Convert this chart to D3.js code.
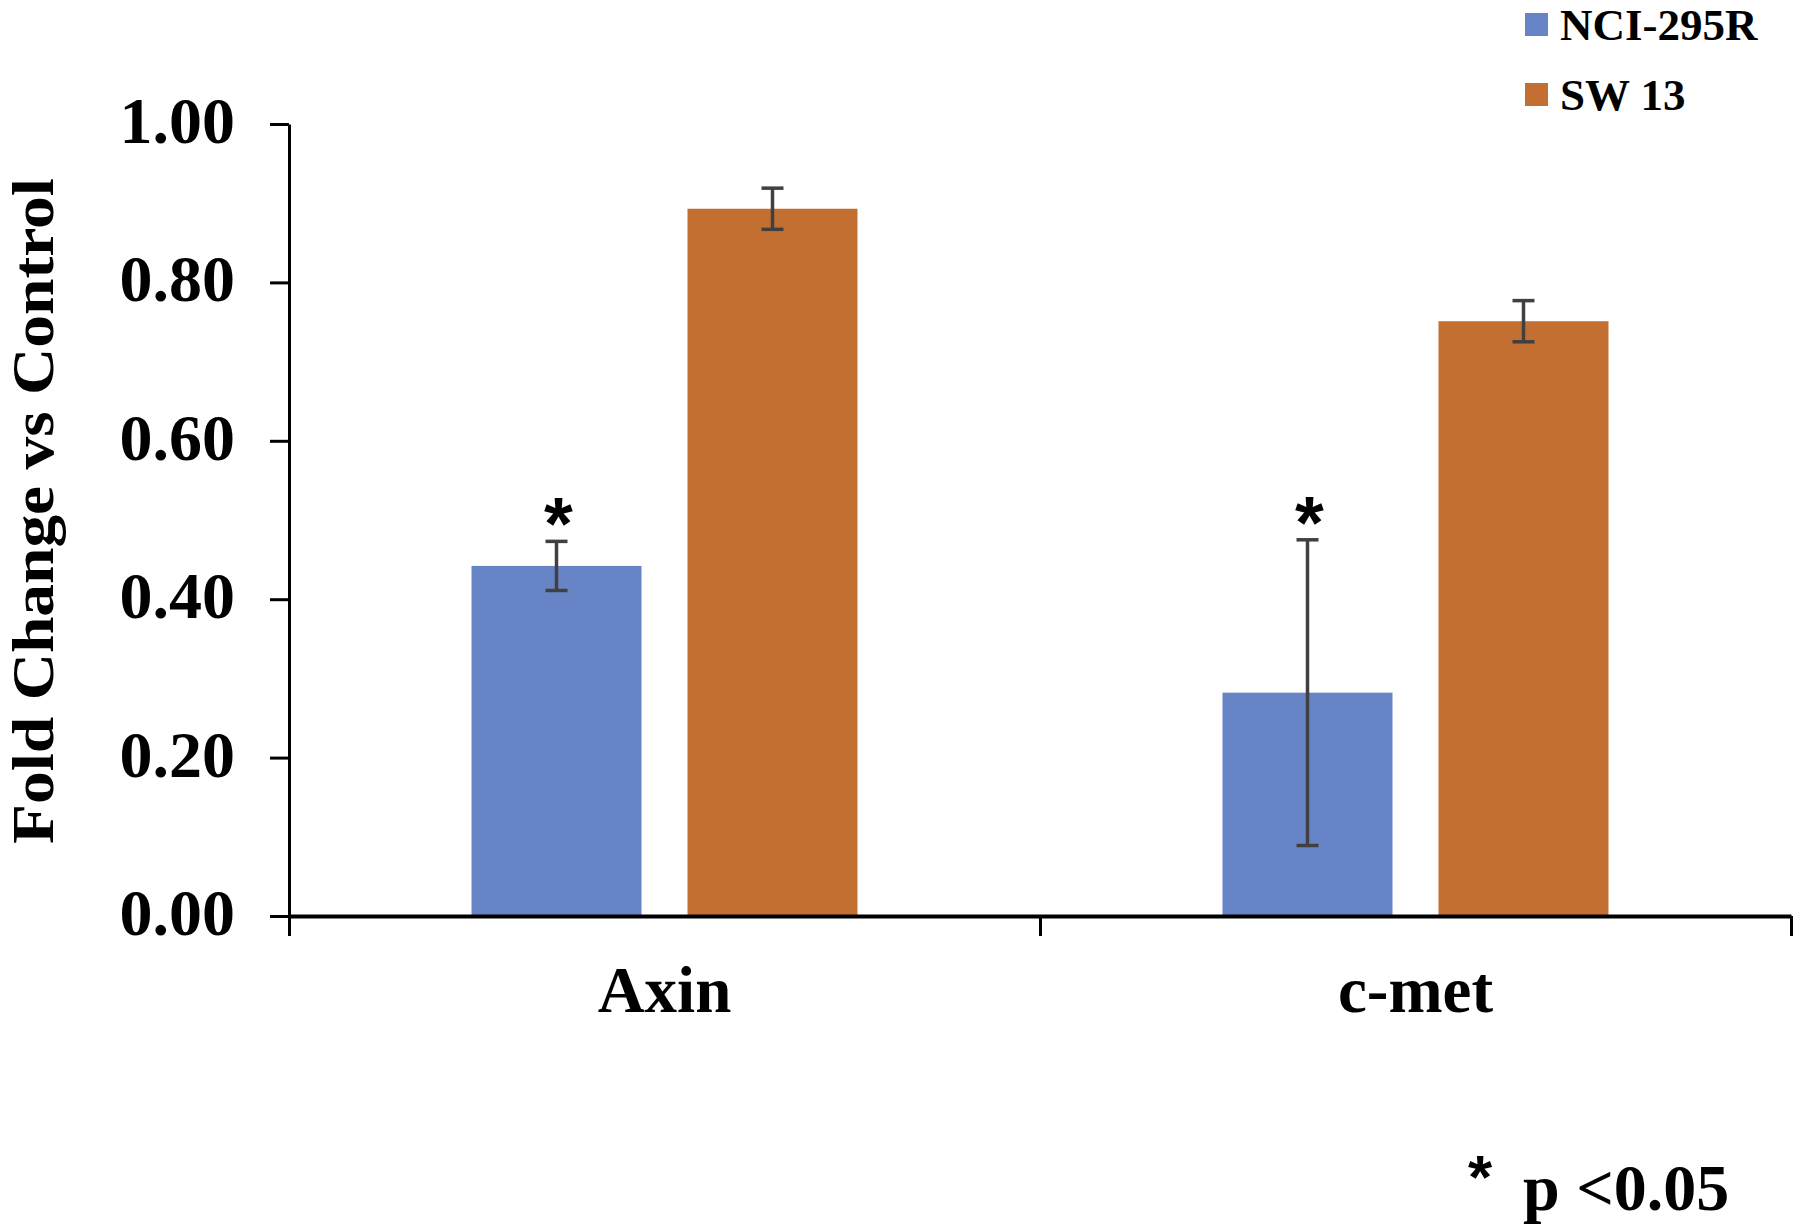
<!DOCTYPE html>
<html>
<head>
<meta charset="utf-8">
<script src="https://cdn.jsdelivr.net/npm/d3@7"></script>
<style>
  body { margin: 0; background: #fff; }
  text { font-family: "Liberation Serif", "Times New Roman", serif; font-weight: bold; fill: #000; }
</style>
</head>
<body>
<div id="chart"></div>
<script>
var categories = ["Axin", "c-met"];
var seriesNames = ["NCI-295R", "SW 13"];
var nciValues = [0.442, 0.282];
var nciErrors = [0.031, 0.193];
var swValues = [0.893, 0.751];
var swErrors = [0.026, 0.026];
var significant = [true, false]; // per series: NCI-295R marked
var yTicks = [0, 0.2, 0.4, 0.6, 0.8, 1.0];
var colors = ["#6785c6", "#c46f32"];

var W = 1800, H = 1229;
var plotLeft = 289, plotRight = 1791, plotTop = 124, plotBottom = 916;

var svg = d3.select("#chart").append("svg")
  .attr("width", W)
  .attr("height", H);

var rows = categories.map(function(c, i) {
  return {cat: c, vals: [
    {key: seriesNames[0], v: nciValues[i], e: nciErrors[i], star: significant[0]},
    {key: seriesNames[1], v: swValues[i], e: swErrors[i], star: significant[1]}
  ]};
});

var x0 = d3.scaleBand().domain(categories).range([plotLeft, plotRight]);
var x1 = d3.scaleBand().domain(seriesNames).range([0, x0.bandwidth()])
  .paddingInner(0.213).paddingOuter(0.845);
var y = d3.scaleLinear().domain([0, 1]).range([plotBottom, plotTop]);

// y axis
var yAxis = svg.append("g")
  .attr("transform", "translate(" + plotLeft + ",0)")
  .call(d3.axisLeft(y).tickValues(yTicks).tickFormat(d3.format(".2f"))
    .tickSize(19).tickSizeOuter(0).tickPadding(35));
yAxis.select(".domain").attr("stroke", "#000").attr("stroke-width", 3);
yAxis.selectAll(".tick line").attr("stroke", "#000").attr("stroke-width", 3);
yAxis.selectAll(".tick text")
  .style("font-size", "66px")
  .attr("dy", "0.28em");

// bars
var groups = svg.selectAll("g.grp")
  .data(rows)
  .enter().append("g")
  .attr("class", "grp")
  .attr("transform", function(d) { return "translate(" + x0(d.cat) + ",0)"; });

groups.selectAll("rect")
  .data(function(d) { return d.vals; })
  .enter().append("rect")
  .attr("x", function(d) { return x1(d.key); })
  .attr("y", function(d) { return y(d.v); })
  .attr("width", x1.bandwidth())
  .attr("height", function(d) { return y(0) - y(d.v); })
  .attr("fill", function(d, i) { return colors[i]; });

// error bars
var err = groups.selectAll("g.err")
  .data(function(d) { return d.vals; })
  .enter().append("g")
  .attr("class", "err")
  .attr("stroke", "#404040")
  .attr("stroke-width", 3.5);
var cx = function(d) { return x1(d.key) + x1.bandwidth() / 2; };
err.append("line")
  .attr("x1", cx).attr("x2", cx)
  .attr("y1", function(d) { return y(d.v + d.e); })
  .attr("y2", function(d) { return y(d.v - d.e); });
err.append("line")
  .attr("x1", function(d) { return cx(d) - 11; })
  .attr("x2", function(d) { return cx(d) + 11; })
  .attr("y1", function(d) { return y(d.v + d.e); })
  .attr("y2", function(d) { return y(d.v + d.e); });
err.append("line")
  .attr("x1", function(d) { return cx(d) - 11; })
  .attr("x2", function(d) { return cx(d) + 11; })
  .attr("y1", function(d) { return y(d.v - d.e); })
  .attr("y2", function(d) { return y(d.v - d.e); });

// significance stars
groups.selectAll("text.star")
  .data(function(d) { return d.vals.filter(function(v) { return v.star; }); })
  .enter().append("text")
  .attr("class", "star")
  .attr("x", function(d) { return cx(d) + 2; })
  .attr("y", function(d) { return y(d.v + d.e) + 8; })
  .attr("text-anchor", "middle")
  .style("font-family", "'Liberation Sans', Arial, sans-serif")
  .style("font-size", "74px")
  .text("*");

// x axis
var xAxis = svg.append("g")
  .attr("transform", "translate(0," + plotBottom + ")")
  .call(d3.axisBottom(d3.scaleLinear().domain([0, categories.length]).range([plotLeft, plotRight]))
    .tickValues(d3.range(categories.length + 1)).tickFormat("").tickSize(20).tickSizeOuter(0));
xAxis.select(".domain").attr("stroke", "#000").attr("stroke-width", 4);
xAxis.selectAll(".tick line").attr("stroke", "#000").attr("stroke-width", 3);

svg.append("g").selectAll("text")
  .data(categories)
  .enter().append("text")
  .attr("x", function(d) { return x0(d) + x0.bandwidth() / 2; })
  .attr("y", 1012)
  .attr("text-anchor", "middle")
  .style("font-size", "65px")
  .text(function(d) { return d; });

// y axis title
svg.append("text")
  .attr("transform", "translate(53,511) rotate(-90)")
  .attr("text-anchor", "middle")
  .attr("textLength", 666)
  .attr("lengthAdjust", "spacingAndGlyphs")
  .style("font-size", "59px")
  .text("Fold Change vs Control");

// legend
var legend = svg.append("g").selectAll("g")
  .data(seriesNames)
  .enter().append("g")
  .attr("transform", function(d, i) { return "translate(1525," + (13 + i * 70) + ")"; });
legend.append("rect")
  .attr("width", 23).attr("height", 23)
  .attr("fill", function(d, i) { return colors[i]; });
legend.append("text")
  .attr("x", 35).attr("y", 27)
  .style("font-size", "45px")
  .text(function(d) { return d; });

// footnote
svg.append("text")
  .attr("x", 1480).attr("y", 1198)
  .attr("text-anchor", "middle")
  .style("font-family", "'Liberation Sans', Arial, sans-serif")
  .style("font-size", "62px")
  .text("*");
svg.append("text")
  .attr("x", 1523).attr("y", 1210)
  .style("font-size", "66px")
  .text("p <0.05");
</script>
</body>
</html>
